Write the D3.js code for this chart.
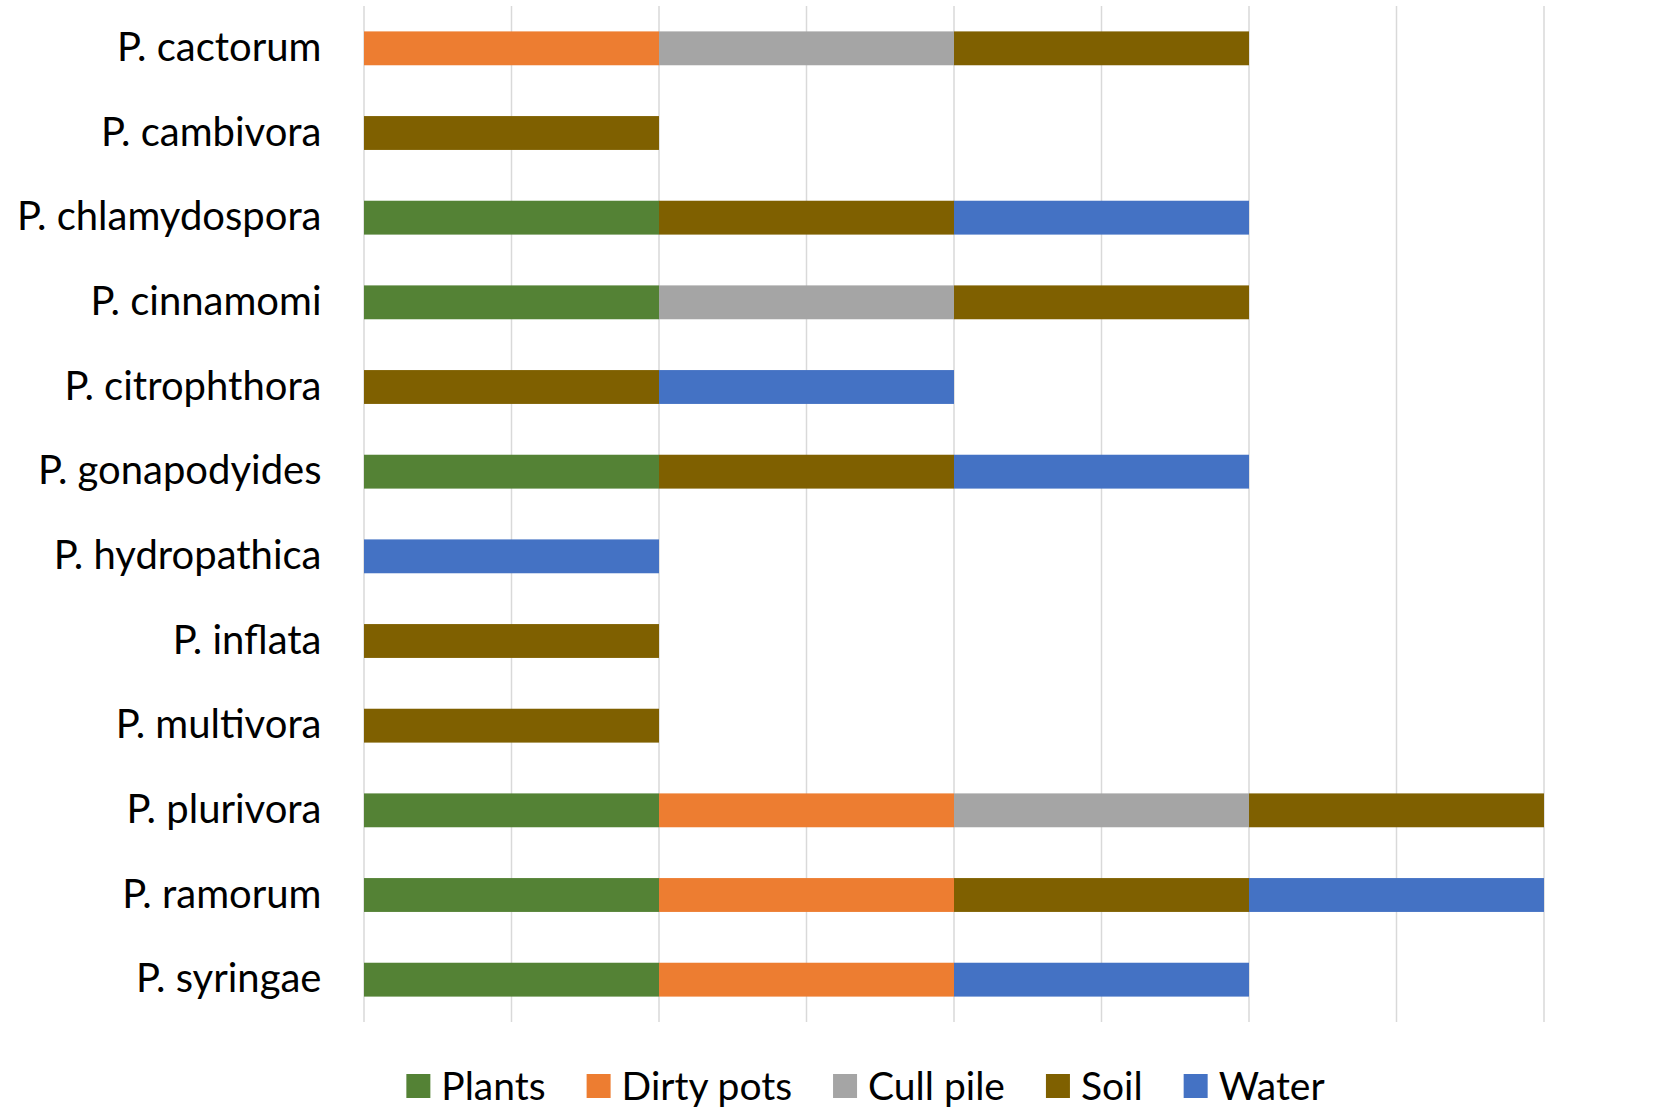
<!DOCTYPE html>
<html><head><meta charset="utf-8">
<script src="https://cdn.jsdelivr.net/npm/d3@7/dist/d3.min.js"></script>
<style>body{margin:0;background:#fff}svg{display:block}</style>
</head><body>
<script>
const categories = ["P. cactorum","P. cambivora","P. chlamydospora","P. cinnamomi","P. citrophthora","P. gonapodyides","P. hydropathica","P. inflata","P. multivora","P. plurivora","P. ramorum","P. syringae"];
const seriesNames = ["Plants","Dirty pots","Cull pile","Soil","Water"];
const seriesColors = ["#548235","#ED7D31","#A5A5A5","#7F6000","#4472C4"];
const plants    = [0,0,1,1,0,1,0,0,0,1,1,1];
const dirtyPots = [1,0,0,0,0,0,0,0,0,1,1,1];
const cullPile  = [1,0,0,1,0,0,0,0,0,1,0,0];
const soil      = [1,1,1,1,1,1,0,1,1,1,1,0];
const water     = [0,0,1,0,1,1,1,0,0,0,1,1];
const xTicks = [0,0.5,1,1.5,2,2.5,3,3.5,4];

const W=1675,H=1107;
const rows = categories.map((c,i)=>({cat:c,"Plants":plants[i],"Dirty pots":dirtyPots[i],"Cull pile":cullPile[i],"Soil":soil[i],"Water":water[i]}));
const svg = d3.select("body").append("svg").attr("width",W).attr("height",H);
const font = "Lato, 'Open Sans', sans-serif";
const x = d3.scaleLinear().domain([0,4]).range([364,1544]);
const y = d3.scaleBand().domain(categories).range([6,1022]).paddingInner(0.6).paddingOuter(0.3);

// gridlines
svg.append("g").selectAll("line").data(xTicks).join("line")
  .attr("x1",d=>x(d)).attr("x2",d=>x(d)).attr("y1",6).attr("y2",1022)
  .attr("stroke","#d9d9d9").attr("stroke-width",1.5);

const stack = d3.stack().keys(seriesNames)(rows);
const color = d3.scaleOrdinal().domain(seriesNames).range(seriesColors);
svg.append("g").selectAll("g").data(stack).join("g").attr("fill",d=>color(d.key))
  .selectAll("rect").data(d=>d.filter(p=>p[1]-p[0]>0)).join("rect")
  .attr("x",d=>x(d[0])).attr("width",d=>x(d[1])-x(d[0]))
  .attr("y",d=>y(d.data.cat)).attr("height",y.bandwidth());

// y axis labels
const ya = svg.append("g").attr("transform","translate(364,0)")
  .call(d3.axisLeft(y).tickSize(0).tickPadding(42.5));
ya.select(".domain").remove();
ya.selectAll("text").attr("font-family",font).attr("font-size",40).attr("fill","#000");

// legend
const lg = svg.append("g");
let cx = 0;
seriesNames.forEach((n,i)=>{
  const g = lg.append("g");
  g.append("rect").attr("x",0).attr("y",-12).attr("width",24).attr("height",24).attr("fill",seriesColors[i]);
  const t = g.append("text").attr("x",35).attr("y",0).attr("dy","0.35em").attr("font-family",font).attr("font-size",39).attr("fill","#000").text(n);
  const w = 35 + t.node().getComputedTextLength();
  g.attr("transform",`translate(${cx},0)`);
  cx += w + 41;
});
const total = cx - 41;
lg.attr("transform",`translate(${865.5-total/2},1086)`);
</script>
</body></html>
